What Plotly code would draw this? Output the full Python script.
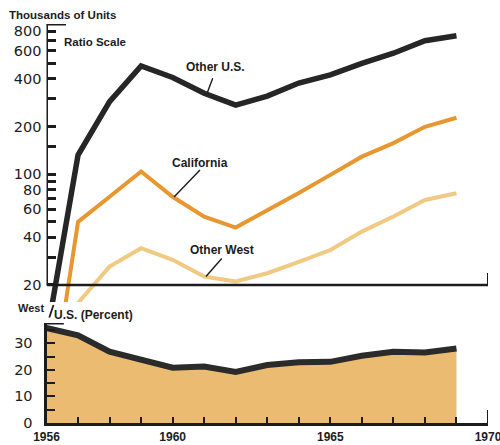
import math
import plotly.graph_objects as go

# Housing units started, thousands (ratio scale), 1956-1969
years = list(range(1956, 1970))
other_us = [9.4, 132, 287, 482, 408, 324, 273, 311, 376, 423, 501, 580, 695, 748]
california = [2.5, 50, 72, 104, 72, 54, 46, 59, 76, 99, 129, 157, 199, 227]
other_west = [3.0, 15.4, 26.1, 34.1, 28.8, 22.6, 21.0, 23.7, 28.0, 33.2, 43.4, 54, 68.7, 75.8]

# West as a share of U.S. total, percent
west_share = [35.7, 33.0, 26.8, 23.7, 20.8, 21.2, 19.2, 21.8, 22.8, 23.0, 25.3, 26.8, 26.5, 28.0]

# Axis ticks
top_tick_vals = [20, 30, 40, 50, 60, 70, 80, 90, 100, 150, 200, 300, 400, 500, 600, 700, 800]
top_tick_text = ["20", "", "40", "", "60", "", "80", "", "100", "", "200", "", "400", "", "600", "", "800"]
bottom_tick_vals = [0, 5, 10, 15, 20, 25, 30, 35]
bottom_tick_text = ["0", "", "10", "", "20", "", "30", ""]
year_ticks = list(range(1956, 1971))
year_labels = ["1956", "1960", "1965", "1970"]

W, H = 500, 445
INK = "#1c1c1c"
BLACK_LINE = "#262626"
ORANGE = "#e8962f"
LIGHT = "#f0c983"
TAN = "#ecbb72"
NUM_FONT = dict(family="DejaVu Sans", size=14.5, color=INK)
LABEL_FONT = "Liberation Sans"


def px(x):
    return x / W


def py(y):
    return 1 - y / H


x_domain = [px(46.5), px(488)]
top_domain = [py(302), py(24)]
bottom_domain = [py(423), py(323)]
top_low, top_high = 15.6, 887
share_high = 37.6

fig = go.Figure()

fig.add_trace(go.Scatter(x=years, y=other_us, xaxis="x2", yaxis="y2", mode="lines",
                         line=dict(color=BLACK_LINE, width=5.5), hoverinfo="skip"))
fig.add_trace(go.Scatter(x=years, y=california, xaxis="x2", yaxis="y2", mode="lines",
                         line=dict(color=ORANGE, width=4), hoverinfo="skip"))
fig.add_trace(go.Scatter(x=years, y=other_west, xaxis="x2", yaxis="y2", mode="lines",
                         line=dict(color=LIGHT, width=4), hoverinfo="skip"))

fig.add_trace(go.Scatter(x=years, y=west_share, xaxis="x", yaxis="y", mode="lines",
                         fill="tozeroy", fillcolor=TAN,
                         line=dict(color="#2b2b2b", width=6), hoverinfo="skip"))

shapes = []
axis_line = dict(color=INK, width=3)
# left axis of the ratio-scale panel, with its top cap
shapes.append(dict(type="line", xref="x2", yref="y2", x0=1956, x1=1956, y0=20, y1=top_high, line=axis_line))
shapes.append(dict(type="line", xref="x2", yref="y2", x0=1956, x1=1956.62, y0=top_high, y1=top_high, line=axis_line))
# baseline at 20 with its end mark
shapes.append(dict(type="line", xref="x2", yref="y2", x0=1956, x1=1970, y0=20, y1=20, line=dict(color=INK, width=2.5)))
shapes.append(dict(type="line", xref="x2", yref="y2", x0=1970, x1=1970, y0=20, y1=23.8, line=dict(color=INK, width=2)))
# cap on the percent axis and the end mark at 1970
shapes.append(dict(type="line", xref="x", yref="y", x0=1956, x1=1956.55, y0=share_high, y1=share_high, line=axis_line))
shapes.append(dict(type="line", xref="x", yref="y", x0=1970, x1=1970, y0=0, y1=4.9, line=dict(color=INK, width=2)))

# leader lines from the series labels
leader = dict(color=INK, width=1.4)
for (x0, y0, x1, y1) in [(212.7, 78.3, 207.3, 92.7), (200, 170, 174, 197), (221.7, 258.5, 206, 276.5)]:
    shapes.append(dict(type="line", xref="paper", yref="paper",
                       x0=px(x0), y0=py(y0), x1=px(x1), y1=py(y1), line=leader))
# slash between "West" and "U.S."
shapes.append(dict(type="line", xref="paper", yref="paper",
                   x0=px(49.3), y0=py(317.5), x1=px(53.5), y1=py(305), line=dict(color=INK, width=1.8)))

annotations = []


def label(text, x, y, size=12):
    annotations.append(dict(text="<b>" + text + "</b>", xref="paper", yref="paper",
                            x=px(x), y=py(y), xanchor="left", yanchor="middle", align="left",
                            showarrow=False, borderpad=0,
                            font=dict(family=LABEL_FONT, size=size, color=INK)))


label("Thousands of Units", 8, 15, 11.5)
label("Ratio Scale", 63, 41.5, 11.5)
label("Other U.S.", 185, 67)
label("California", 171, 162.5)
label("Other West", 189, 250)
label("West", 17, 308, 11)
label("U.S. (Percent)", 53, 314.5, 12)

fig.update_layout(
    width=W, height=H,
    margin=dict(l=0, r=0, t=0, b=0, autoexpand=False),
    paper_bgcolor="white", plot_bgcolor="rgba(0,0,0,0)",
    showlegend=False,
    shapes=shapes,
    annotations=annotations,
    xaxis=dict(domain=x_domain, range=[1956, 1970], anchor="y",
               showline=True, linecolor=INK, linewidth=3,
               ticks="inside", ticklen=6, tickwidth=2, tickcolor=INK,
               tickvals=year_ticks,
               ticktext=["<b>%d</b>" % y if str(y) in year_labels else "" for y in year_ticks],
               tickfont=dict(family=LABEL_FONT, size=12, color=INK),
               ticklabelstandoff=1, ticklabeloverflow="allow", automargin=False,
               showgrid=False, zeroline=False, fixedrange=True),
    yaxis=dict(domain=bottom_domain, range=[0, share_high], anchor="x",
               showline=True, linecolor=INK, linewidth=3,
               ticks="inside", ticklen=8, tickwidth=2, tickcolor=INK,
               tickvals=bottom_tick_vals, ticktext=bottom_tick_text,
               tickfont=NUM_FONT, ticklabelstandoff=8, automargin=False,
               showgrid=False, zeroline=False, fixedrange=True),
    xaxis2=dict(domain=x_domain, range=[1956, 1970], anchor="y2", visible=False,
                showgrid=False, zeroline=False, fixedrange=True),
    yaxis2=dict(domain=top_domain, type="log",
                range=[math.log10(top_low), math.log10(top_high)], anchor="x2",
                showline=False,
                ticks="inside", ticklen=9, tickwidth=2.5, tickcolor=INK,
                tickvals=top_tick_vals, ticktext=top_tick_text,
                tickfont=NUM_FONT, ticklabelstandoff=4, automargin=False,
                showgrid=False, zeroline=False, fixedrange=True),
)

fig.write_html("out.html")
